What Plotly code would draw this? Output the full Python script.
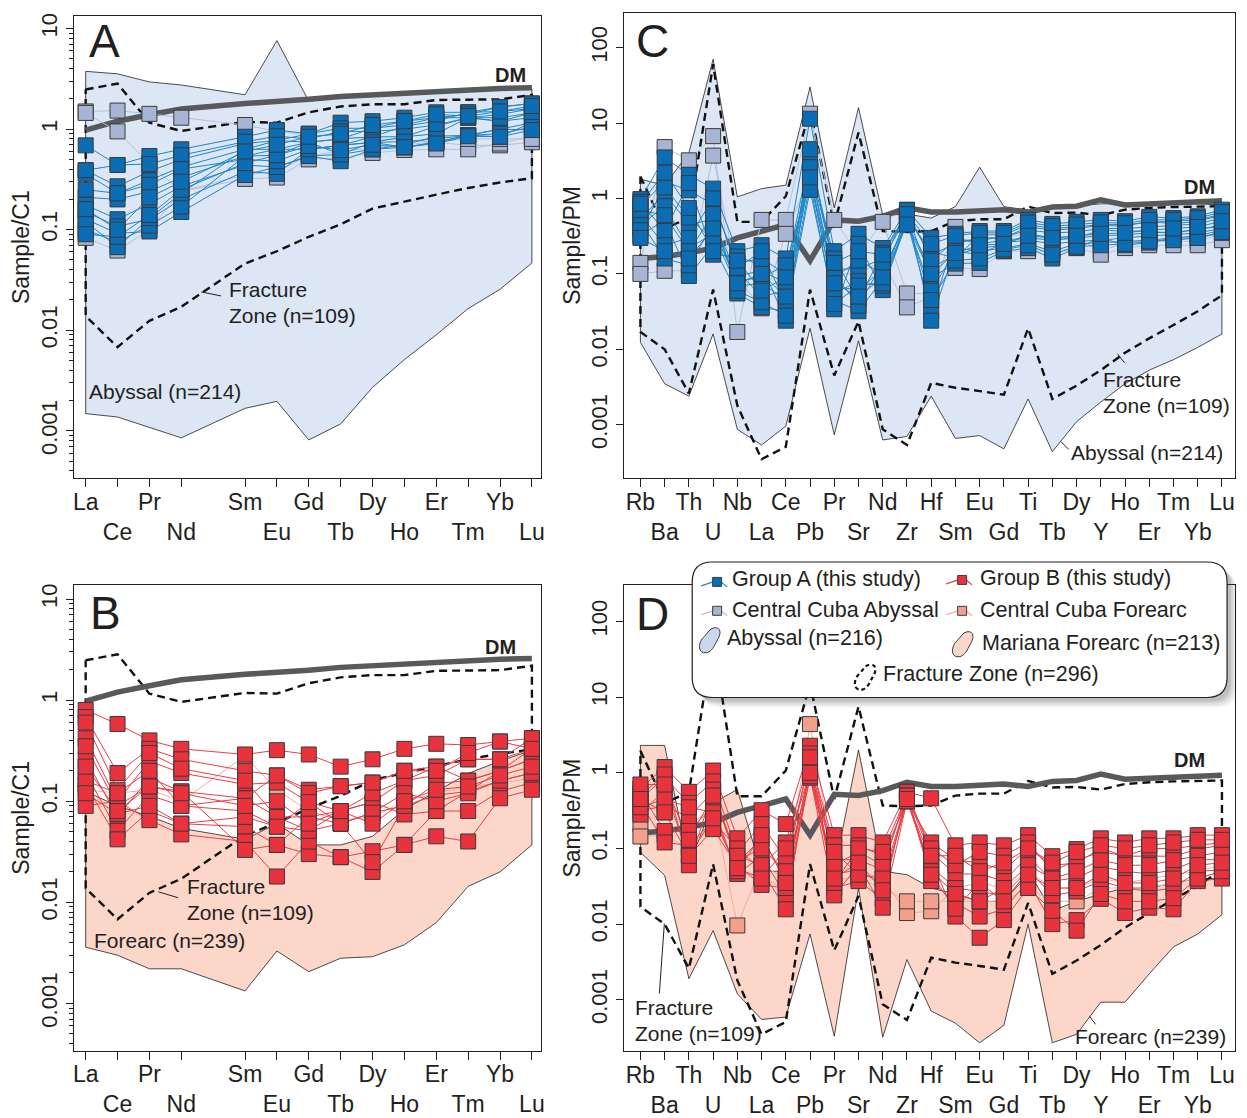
import plotly.graph_objects as go

W, H = 1247, 1118
FONT = "Liberation Sans, Arial, sans-serif"
INK = "#231f20"

# ---------------------------------------------------------------- elements
ree_elements = ["La", "Ce", "Pr", "Nd", "Pm", "Sm", "Eu", "Gd", "Tb", "Dy", "Ho", "Er", "Tm", "Yb", "Lu"]
ree_plotted = [e for e in ree_elements if e != "Pm"]
spider_elements = ["Rb", "Ba", "Th", "U", "Nb", "La", "Ce", "Pb", "Pr", "Sr", "Nd", "Zr", "Hf",
                   "Sm", "Eu", "Gd", "Ti", "Tb", "Dy", "Y", "Ho", "Er", "Tm", "Yb", "Lu"]

# ---------------------------------------------------------------- REE (chondrite normalised)
dm_ree = [0.98, 1.2, 1.39, 1.59, 1.8, 1.87, 1.98, 2.11, 2.19, 2.25, 2.38, 2.48, 2.54, 2.58]
fz_ree_upper = [2.48, 2.84, 1.16, 0.96, 1.18, 1.16, 1.47, 1.68, 1.77, 1.77, 1.95, 1.98, 1.98, 2.19]
fz_ree_lower = [0.0138, 0.0068, 0.0124, 0.0171, 0.046, 0.061, 0.085, 0.113, 0.162, 0.19, 0.223, 0.26, 0.295, 0.325]
abyssal_ree_upper = [3.76, 3.55, 2.95, 2.75, 2.2, 7.6, 1.9, 2.05, 2.15, 2.2, 2.3, 2.4, 2.45, 2.5]
abyssal_ree_lower = [0.00148, 0.00137, 0.00107, 0.00085, 0.00167, 0.00196, 0.00081, 0.00117, 0.0027,
                     0.0051, 0.009, 0.0164, 0.0255, 0.0467]
forearc_ree_upper = [0.125, 0.09, 0.071, 0.054, 0.042, 0.06, 0.037, 0.037, 0.045, 0.083, 0.125, 0.188, 0.25, 0.32]
forearc_ree_lower = [0.0036, 0.003, 0.0022, 0.0022, 0.00133, 0.0033, 0.00206, 0.0028, 0.0029, 0.0038,
                     0.0063, 0.0144, 0.02, 0.037]

group_a_ree = [
    [0.69, 0.44, 0.54, 0.63, 0.84, 0.98, 0.90, 1.16, 1.20, 1.30, 1.47, 1.47, 1.66, 1.80],
    [0.39, 0.27, 0.38, 0.50, 0.72, 0.77, 0.74, 0.80, 1.02, 1.10, 1.30, 1.30, 1.40, 1.60],
    [0.36, 0.23, 0.31, 0.42, 0.63, 0.63, 0.63, 0.69, 0.84, 0.84, 1.07, 1.30, 1.20, 1.45],
    [0.21, 0.20, 0.24, 0.33, 0.54, 0.55, 0.74, 0.56, 0.74, 0.66, 0.74, 0.87, 0.84, 1.16],
    [0.176, 0.127, 0.18, 0.27, 0.44, 0.42, 0.54, 0.48, 0.63, 0.66, 0.74, 0.87, 1.00, 0.98],
    [0.15, 0.108, 0.127, 0.20, 0.38, 0.36, 0.63, 0.69, 0.74, 0.84, 0.90, 1.30, 1.20, 1.30],
    [0.127, 0.092, 0.096, 0.15, 0.35, 0.42, 0.54, 0.56, 0.63, 0.70, 0.85, 0.87, 1.00, 1.16],
    [0.10, 0.075, 0.11, 0.17, 0.54, 0.63, 0.74, 0.80, 0.84, 1.07, 1.20, 1.47, 1.50, 1.60],
    [0.12, 0.067, 0.13, 0.23, 0.63, 0.77, 0.90, 1.02, 1.02, 1.20, 1.30, 1.40, 1.66, 1.80],
    [0.39, 0.44, 0.45, 0.55, 0.75, 0.85, 0.80, 0.95, 0.95, 1.00, 1.10, 1.30, 1.30, 1.45],
    [0.25, 0.23, 0.28, 0.40, 0.50, 0.48, 0.63, 0.69, 0.74, 0.75, 0.80, 0.87, 0.90, 1.05],
    [0.09, 0.085, 0.14, 0.25, 0.46, 0.55, 0.68, 0.62, 0.70, 0.66, 0.72, 0.85, 0.84, 0.98],
    [0.16, 0.10, 0.21, 0.30, 0.60, 0.70, 0.84, 0.90, 1.10, 1.20, 1.40, 1.35, 1.50, 1.70],
]
cuba_abyssal_ree = [
    [1.50, 1.53, 1.42, 1.30, 1.10, 0.95, 0.88, 0.85, 0.80, 0.78, 0.74, 0.69, 0.69, 0.74],
    [0.083, 0.062, 0.10, 0.24, 0.32, 0.33, 0.50, 0.52, 0.58, 0.62, 0.63, 0.63, 0.72, 0.85],
    [1.45, 0.95, 0.45, 0.24, 0.35, 0.38, 0.55, 0.60, 0.65, 0.70, 0.75, 0.80, 0.80, 0.80],
]
group_b_ree = [
    [0.80, 0.58, 0.40, 0.33, 0.29, 0.32, 0.29, 0.22, 0.26, 0.33, 0.37, 0.36, 0.39, 0.42],
    [0.68, 0.19, 0.33, 0.26, 0.20, 0.18, 0.13, 0.141, 0.153, 0.20, 0.22, 0.26, 0.26, 0.33],
    [0.42, 0.10, 0.25, 0.19, 0.147, 0.153, 0.098, 0.08, 0.098, 0.16, 0.22, 0.16, 0.20, 0.26],
    [0.26, 0.07, 0.17, 0.125, 0.107, 0.07, 0.07, 0.06, 0.077, 0.09, 0.115, 0.125, 0.16, 0.19],
    [0.19, 0.051, 0.115, 0.09, 0.08, 0.056, 0.051, 0.08, 0.098, 0.074, 0.08, 0.08, 0.125, 0.153],
    [0.147, 0.042, 0.08, 0.06, 0.056, 0.037, 0.03, 0.028, 0.032, 0.037, 0.045, 0.04, 0.107, 0.13],
    [0.09, 0.10, 0.065, 0.047, 0.04, 0.018, 0.04, 0.028, 0.02, 0.037, 0.08, 0.125, 0.20, 0.26],
    [0.60, 0.13, 0.30, 0.21, 0.16, 0.07, 0.051, 0.06, 0.025, 0.09, 0.15, 0.16, 0.20, 0.33],
    [0.35, 0.09, 0.14, 0.125, 0.033, 0.037, 0.07, 0.08, 0.12, 0.16, 0.18, 0.26, 0.26, 0.42],
    [0.16, 0.12, 0.20, 0.09, 0.107, 0.18, 0.12, 0.141, 0.153, 0.20, 0.20, 0.30, 0.39, 0.33],
    [0.12, 0.075, 0.09, 0.06, 0.07, 0.056, 0.098, 0.06, 0.077, 0.12, 0.10, 0.12, 0.16, 0.19],
    [0.22, 0.08, 0.14, 0.12, 0.09, 0.10, 0.06, 0.08, 0.06, 0.10, 0.13, 0.14, 0.18, 0.22],
]
cuba_forearc_ree = [
    [0.13, 0.12, 0.13, 0.10, 0.28, 0.13, 0.08, 0.065, 0.07, 0.10, 0.12, 0.14, 0.15, 0.17],
]

# ---------------------------------------------------------------- trace elements (primitive mantle normalised)
dm_spider = [0.16, 0.17, 0.19, 0.22, 0.30, 0.36, 0.45, 0.15, 0.52, 0.50, 0.58, 0.75, 0.66,
             0.66, 0.69, 0.71, 0.66, 0.77, 0.79, 0.96, 0.82, 0.85, 0.88, 0.91, 0.93]
fz_spider_upper = [1.95, 0.40, 0.55, 60.0, 0.49, 0.49, 1.07, 15.0, 0.45, 7.5, 0.37, 0.36, 0.37,
                   0.50, 0.53, 0.53, 0.78, 0.64, 0.65, 0.60, 0.71, 0.75, 0.77, 0.78, 0.79]
fz_spider_lower = [0.017, 0.010, 0.0026, 0.062, 0.0018, 0.00035, 0.00051, 0.062, 0.0045, 0.0235,
                   0.00087, 0.00054, 0.0036, 0.0031, 0.0028, 0.0025, 0.019, 0.0022, 0.0033, 0.0053,
                   0.009, 0.014, 0.021, 0.032, 0.052]
abyssal_spider_upper = [1.8, 1.5, 4.0, 70.0, 1.05, 1.35, 1.5, 30.0, 0.75, 16.0, 0.6, 0.62, 0.55,
                        0.78, 2.6, 0.78, 0.7, 0.75, 0.8, 0.85, 0.85, 0.85, 0.85, 0.85, 0.82]
abyssal_spider_lower = [0.0124, 0.0035, 0.0024, 0.016, 0.00087, 0.00054, 0.00096, 0.019, 0.00074,
                        0.013, 0.00063, 0.0007, 0.0024, 0.00066, 0.00072, 0.00048, 0.0022, 0.00044,
                        0.0011, 0.002, 0.0035, 0.0053, 0.0073, 0.0106, 0.016]
forearc_spider_upper = [2.3, 2.3, 0.06, 0.4, 0.6, 0.05, 0.05, 1.0, 0.05, 2.0, 0.05, 0.045, 0.03,
                        0.025, 0.02, 0.02, 0.05, 0.015, 0.02, 0.025, 0.03, 0.03, 0.035, 0.04, 0.04]
forearc_spider_lower = [0.089, 0.044, 0.0019, 0.0082, 0.0012, 0.00055, 0.00059, 0.0074, 0.00033,
                        0.03, 0.00032, 0.0034, 0.00071, 0.00049, 0.00027, 0.00046, 0.01, 0.00027,
                        0.00035, 0.00093, 0.00093, 0.0022, 0.005, 0.0074, 0.0133]

group_a_spider = [
    [0.98, 3.5, 2.06, 1.35, 0.2, 0.24, 0.16, 11.4, 0.2, 0.34, 0.22, 0.71, 0.3, 0.34, 0.37, 0.37, 0.52, 0.46, 0.49, 0.52, 0.5, 0.57, 0.55, 0.58, 0.71],
    [0.79, 1.67, 1.28, 0.83, 0.14, 0.16, 0.1, 3.9, 0.116, 0.116, 0.16, 0.57, 0.18, 0.25, 0.3, 0.3, 0.42, 0.38, 0.4, 0.44, 0.43, 0.5, 0.46, 0.5, 0.6],
    [0.54, 1.15, 0.46, 0.52, 0.094, 0.11, 0.076, 2.8, 0.068, 0.061, 0.116, 0.46, 0.12, 0.18, 0.22, 0.24, 0.34, 0.3, 0.3, 0.38, 0.37, 0.37, 0.34, 0.4, 0.42],
    [0.44, 0.79, 0.22, 0.34, 0.068, 0.076, 0.045, 2.06, 0.045, 0.032, 0.085, 0.6, 0.09, 0.137, 0.14, 0.2, 0.22, 0.16, 0.22, 0.3, 0.24, 0.26, 0.3, 0.3, 0.35],
    [0.32, 0.52, 0.094, 0.24, 0.055, 0.036, 0.032, 1.58, 0.034, 0.25, 0.061, 0.5, 0.032, 0.3, 0.25, 0.28, 0.3, 0.28, 0.3, 0.32, 0.33, 0.35, 0.36, 0.38, 0.45],
    [0.9, 0.37, 1.6, 0.18, 0.17, 0.13, 0.024, 3.2, 0.16, 0.045, 0.19, 0.65, 0.024, 0.22, 0.2, 0.22, 0.25, 0.2, 0.25, 0.26, 0.27, 0.28, 0.3, 0.32, 0.38],
    [0.6, 0.24, 0.3, 1.0, 0.11, 0.05, 0.06, 2.4, 0.09, 0.15, 0.1, 0.55, 0.2, 0.16, 0.33, 0.33, 0.45, 0.4, 0.42, 0.45, 0.45, 0.48, 0.5, 0.52, 0.62],
    [0.5, 0.16, 0.13, 0.45, 0.08, 0.09, 0.13, 1.8, 0.055, 0.08, 0.07, 0.48, 0.06, 0.2, 0.18, 0.26, 0.28, 0.25, 0.27, 0.28, 0.3, 0.32, 0.33, 0.35, 0.4],
    [0.38, 1.4, 0.56, 0.28, 0.12, 0.2, 0.04, 4.5, 0.1, 0.038, 0.14, 0.7, 0.15, 0.28, 0.28, 0.31, 0.38, 0.35, 0.36, 0.4, 0.4, 0.42, 0.44, 0.46, 0.55],
    [0.7, 0.6, 0.2, 0.62, 0.06, 0.042, 0.028, 1.3, 0.04, 0.07, 0.075, 0.52, 0.045, 0.15, 0.16, 0.21, 0.24, 0.18, 0.23, 0.24, 0.25, 0.27, 0.28, 0.3, 0.36],
    [0.85, 2.2, 0.75, 0.2, 0.15, 0.06, 0.09, 2.6, 0.14, 0.2, 0.18, 0.62, 0.25, 0.32, 0.35, 0.35, 0.48, 0.43, 0.45, 0.48, 0.47, 0.52, 0.52, 0.55, 0.66],
    [0.3, 0.2, 0.16, 0.4, 0.075, 0.1, 0.05, 1.9, 0.075, 0.05, 0.09, 0.45, 0.1, 0.19, 0.24, 0.25, 0.32, 0.3, 0.32, 0.34, 0.35, 0.38, 0.4, 0.42, 0.5],
]
cuba_abyssal_spider = [
    [0.14, 4.8, 3.2, 6.7, 0.017, 0.52, 0.52, 13.3, 0.52, 0.18, 0.49, 0.055, 0.055, 0.42, 0.3, 0.3, 0.35, 0.28, 0.3, 0.2, 0.26, 0.28, 0.27, 0.27, 0.34],
    [0.10, 0.11, 0.11, 3.7, 0.09, 0.035, 0.34, 2.0, 0.1, 0.1, 0.15, 0.036, 0.05, 0.12, 0.116, 0.2, 0.2, 0.2, 0.22, 0.18, 0.22, 0.24, 0.24, 0.24, 0.28],
]
group_b_spider = [
    [0.62, 1.19, 0.56, 1.07, 0.136, 0.32, 0.21, 2.28, 0.15, 0.15, 0.12, 0.56, 0.46, 0.11, 0.12, 0.11, 0.15, 0.079, 0.098, 0.136, 0.12, 0.136, 0.136, 0.15, 0.15],
    [0.45, 0.86, 0.4, 0.77, 0.088, 0.21, 0.071, 1.48, 0.11, 0.11, 0.079, 0.42, 0.12, 0.071, 0.064, 0.052, 0.1, 0.06, 0.064, 0.1, 0.079, 0.079, 0.079, 0.098, 0.11],
    [0.32, 0.36, 0.26, 0.56, 0.064, 0.136, 0.041, 1.07, 0.071, 0.071, 0.052, 0.56, 0.088, 0.046, 0.046, 0.037, 0.079, 0.037, 0.041, 0.057, 0.05, 0.046, 0.052, 0.071, 0.071],
    [0.55, 0.17, 0.17, 0.36, 0.046, 0.079, 0.024, 0.86, 0.046, 0.052, 0.033, 0.42, 0.057, 0.03, 0.027, 0.024, 0.052, 0.024, 0.027, 0.037, 0.03, 0.027, 0.03, 0.05, 0.052],
    [0.4, 0.12, 0.11, 0.23, 0.1, 0.052, 0.0157, 1.3, 0.03, 0.037, 0.0216, 0.56, 0.037, 0.019, 0.0126, 0.0157, 0.037, 0.01, 0.0113, 0.0216, 0.014, 0.0165, 0.0157, 0.037, 0.04],
    [0.28, 0.6, 0.079, 0.18, 0.06, 0.033, 0.03, 0.9, 0.024, 0.06, 0.0165, 0.42, 0.07, 0.0126, 0.0066, 0.0113, 0.03, 0.015, 0.0082, 0.025, 0.02, 0.02, 0.022, 0.04, 0.05],
    [0.5, 0.95, 0.06, 0.6, 0.07, 0.1, 0.05, 1.8, 0.06, 0.09, 0.06, 0.5, 0.1, 0.06, 0.09, 0.08, 0.12, 0.05, 0.07, 0.09, 0.08, 0.1, 0.1, 0.11, 0.12],
    [0.35, 0.45, 0.35, 0.3, 0.05, 0.15, 0.035, 1.2, 0.09, 0.045, 0.04, 0.45, 0.05, 0.025, 0.02, 0.03, 0.06, 0.04, 0.05, 0.07, 0.06, 0.06, 0.07, 0.08, 0.09],
    [0.7, 0.7, 0.13, 0.5, 0.08, 0.06, 0.12, 1.6, 0.035, 0.1, 0.09, 0.5, 0.08, 0.08, 0.05, 0.065, 0.1, 0.065, 0.09, 0.11, 0.1, 0.11, 0.12, 0.13, 0.13],
    [0.45, 0.3, 0.08, 0.25, 0.055, 0.04, 0.1, 1.0, 0.04, 0.065, 0.028, 0.45, 0.045, 0.016, 0.035, 0.02, 0.045, 0.03, 0.03, 0.045, 0.035, 0.035, 0.04, 0.06, 0.065],
]
cuba_forearc_spider = [
    [0.21, 0.3, 0.2, 0.35, 0.0096, 0.06, 0.04, 4.4, 0.06, 0.05, 0.04, 0.014, 0.0148, 0.03, 0.035, 0.03, 0.05, 0.03, 0.03, 0.04, 0.035, 0.04, 0.045, 0.05, 0.06],
    [0.144, 0.15, 0.1, 0.2, 0.05, 0.04, 0.03, 1.2, 0.04, 0.04, 0.03, 0.02, 0.02, 0.02, 0.02, 0.02, 0.03, 0.02, 0.02, 0.03, 0.03, 0.03, 0.035, 0.04, 0.05],
]

# ---------------------------------------------------------------- styling
GA_FILL, GA_LINE = "#0b6db3", "#1f87c8"
CCA_FILL, CCA_LINE = "#a8b4d4", "#b4c0dc"
GB_FILL, GB_LINE = "#e8323c", "#ea3d45"
CCF_FILL, CCF_LINE = "#f2a08c", "#f6ab9b"
ABY_FILL, FA_FILL = "#dce6f4", "#fbd6c9"
DM_COL = "#58595b"
EDGE = "#3b3a3c"

ree_x = [ree_elements.index(e) for e in ree_plotted]
spider_x = list(range(len(spider_elements)))


def px(x):
    return x / W


def py(y):
    return 1 - y / H


fig = go.Figure()


def add_field(xs, upper, lower, color, ax):
    fig.add_trace(go.Scatter(
        x=xs + xs[::-1] + [xs[0]], y=upper + lower[::-1] + [upper[0]],
        fill="toself", fillcolor=color, mode="lines",
        line=dict(color=INK, width=0.8), xaxis=ax[0], yaxis=ax[1],
        hoverinfo="skip", showlegend=False))


def add_fz(xs, upper, lower, ax):
    fig.add_trace(go.Scatter(
        x=xs + xs[::-1] + [xs[0]], y=upper + lower[::-1] + [upper[0]],
        mode="lines", line=dict(color="#111111", width=2.4, dash="8px,5px"),
        xaxis=ax[0], yaxis=ax[1], hoverinfo="skip", showlegend=False))


def add_dm(xs, vals, ax):
    fig.add_trace(go.Scatter(
        x=xs, y=vals, mode="lines", line=dict(color=DM_COL, width=5.5),
        xaxis=ax[0], yaxis=ax[1], hoverinfo="skip", showlegend=False))


def add_samples(xs, groups, ax):
    # lines of every sample first, then every marker on top
    for rows, fillc, linec in groups:
        for row in rows:
            fig.add_trace(go.Scatter(
                x=xs, y=row, mode="lines", line=dict(color=linec, width=1),
                xaxis=ax[0], yaxis=ax[1], hoverinfo="skip", showlegend=False))
    for rows, fillc, linec in groups:
        for row in rows:
            fig.add_trace(go.Scatter(
                x=xs, y=row, mode="markers",
                marker=dict(symbol="square", size=15, color=fillc, line=dict(color=EDGE, width=1)),
                xaxis=ax[0], yaxis=ax[1], hoverinfo="skip", showlegend=False))


AX_A, AX_C, AX_B, AX_D = ("x", "y"), ("x2", "y2"), ("x3", "y3"), ("x4", "y4")

# Panel A
add_field(ree_x, abyssal_ree_upper, abyssal_ree_lower, ABY_FILL, AX_A)
add_fz(ree_x, fz_ree_upper, fz_ree_lower, AX_A)
add_dm(ree_x, dm_ree, AX_A)
add_samples(ree_x, [(cuba_abyssal_ree, CCA_FILL, CCA_LINE), (group_a_ree, GA_FILL, GA_LINE)], AX_A)

# Panel C
add_field(spider_x, abyssal_spider_upper, abyssal_spider_lower, ABY_FILL, AX_C)
add_fz(spider_x, fz_spider_upper, fz_spider_lower, AX_C)
add_dm(spider_x, dm_spider, AX_C)
add_samples(spider_x, [(cuba_abyssal_spider, CCA_FILL, CCA_LINE), (group_a_spider, GA_FILL, GA_LINE)], AX_C)

# Panel B
add_field(ree_x, forearc_ree_upper, forearc_ree_lower, FA_FILL, AX_B)
add_fz(ree_x, fz_ree_upper, fz_ree_lower, AX_B)
add_dm(ree_x, dm_ree, AX_B)
add_samples(ree_x, [(cuba_forearc_ree, CCF_FILL, CCF_LINE), (group_b_ree, GB_FILL, GB_LINE)], AX_B)

# Panel D
add_field(spider_x, forearc_spider_upper, forearc_spider_lower, FA_FILL, AX_D)
add_fz(spider_x, fz_spider_upper, fz_spider_lower, AX_D)
add_dm(spider_x, dm_spider, AX_D)
add_samples(spider_x, [(cuba_forearc_spider, CCF_FILL, CCF_LINE), (group_b_spider, GB_FILL, GB_LINE)], AX_D)


# ---------------------------------------------------------------- axes
def two_row(names):
    return [n if i % 2 == 0 else "<br>" + n for i, n in enumerate(names)]


def x_axis(domain, rng, vals, names, anchor):
    return dict(domain=domain, range=rng, anchor=anchor, tickmode="array", tickvals=vals,
                ticktext=two_row(names), tickangle=0, ticks="outside", ticklen=8, tickwidth=1.2,
                tickcolor=INK, showline=True, linecolor=INK, linewidth=1.3, mirror=True,
                showgrid=False, zeroline=False, tickfont=dict(size=23, color=INK, family=FONT),
                ticklabelstandoff=-5, fixedrange=True)


def label(v):
    return f"{v:g}" if v >= 1 else f"{v:.{len(str(v).split('.')[1])}f}"


def y_axis(domain, rng, vals, title, anchor, minor_ticks):
    d = dict(type="log", domain=domain, range=rng, anchor=anchor, tickmode="array", tickvals=vals,
             ticktext=[label(v) for v in vals], tickangle=-90, ticks="outside", ticklen=7,
             tickwidth=1.2, tickcolor=INK, showline=True, linecolor=INK, linewidth=1.3, mirror=True,
             showgrid=False, zeroline=False, tickfont=dict(size=22, color=INK, family=FONT),
             title=dict(text=title, font=dict(size=23, color=INK, family=FONT), standoff=0),
             fixedrange=True)
    if minor_ticks:
        d["minor"] = dict(tickmode="array", ticks="outside", ticklen=4, tickwidth=1, tickcolor=INK,
                          showgrid=False,
                          tickvals=[k * 10.0 ** e for e in range(-4, 2) for k in range(2, 10)])
    return d


ree_ticks = [0.001, 0.01, 0.1, 1, 10]
spider_ticks = [0.001, 0.01, 0.1, 1, 10, 100]
ree_xr = [-0.366, 14.28]
sp_xr = [-0.67, 24.54]

fig.update_layout(
    width=W, height=H, autosize=False, margin=dict(l=0, r=0, t=0, b=0),
    paper_bgcolor="white", plot_bgcolor="white", showlegend=False,
    font=dict(family=FONT, color=INK),
    xaxis=x_axis([px(73.3), px(542)], ree_xr, ree_x, ree_plotted, "y"),
    yaxis=y_axis([py(476.7), py(13.3)], [-3.47, 1.123], ree_ticks, "Sample/C1", "x", True),
    xaxis2=x_axis([px(625.7), px(1239)], sp_xr, spider_x, spider_elements, "y2"),
    yaxis2=y_axis([py(476.7), py(9.9)], [-3.705, 2.46], spider_ticks, "Sample/PM", "x2", False),
    xaxis3=x_axis([px(73.3), px(542)], ree_xr, ree_x, ree_plotted, "y3"),
    yaxis3=y_axis([py(1051.3), py(584.3)], [-3.466, 1.137], ree_ticks, "Sample/C1", "x3", True),
    xaxis4=x_axis([px(625.7), px(1239)], sp_xr, spider_x, spider_elements, "y4"),
    yaxis4=y_axis([py(1052), py(584)], [-3.68, 2.483], spider_ticks, "Sample/PM", "x4", False),
)

# ---------------------------------------------------------------- text labels
annotations = []


def note(text, x, y, size=21, anchor="left", bold=False):
    annotations.append(dict(text=f"<b>{text}</b>" if bold else text, x=px(x), y=py(y),
                            xref="paper", yref="paper", xanchor=anchor, yanchor="middle",
                            showarrow=False, font=dict(size=size, color=INK, family=FONT)))


for letter, lx, ly in [("A", 86, 38), ("C", 636, 38), ("B", 87, 612), ("D", 636, 613)]:
    note(letter, lx, ly, size=46)
for dx, dy in [(512, 72), (1203, 185), (502, 646), (1193, 760)]:
    note("DM", dx, dy, size=20, anchor="center", bold=True)

note("Fracture", 227, 288)
note("Zone (n=109)", 227, 314)
note("Abyssal (n=214)", 86, 390)
note("Fracture", 1104, 378)
note("Zone (n=109)", 1104, 404)
note("Abyssal (n=214)", 1072, 451)
note("Fracture", 185, 887)
note("Zone (n=109)", 185, 913)
note("Forearc (n=239)", 91, 941)
note("Fracture", 635, 1008)
note("Zone (n=109)", 635, 1034)
note("Forearc (n=239)", 1076, 1037)

shapes = []


def seg(x0, y0, x1, y1, color=INK, width=1):
    shapes.append(dict(type="line", xref="paper", yref="paper", x0=px(x0), y0=py(y0),
                       x1=px(x1), y1=py(y1), line=dict(color=color, width=width), layer="above"))


# leader lines
seg(201, 290, 221, 294)
seg(1121, 352, 1128, 361)
seg(1064, 440, 1072, 448)
seg(158, 892, 178, 898)
seg(661, 994, 666, 924)
seg(1093, 1017, 1099, 1025)


# ---------------------------------------------------------------- legend box
def rounded_rect(x0, y0, x1, y1, r):
    pts = [
        f"M {px(x0 + r)},{py(y0)}", f"L {px(x1 - r)},{py(y0)}",
        f"Q {px(x1)},{py(y0)} {px(x1)},{py(y0 + r)}", f"L {px(x1)},{py(y1 - r)}",
        f"Q {px(x1)},{py(y1)} {px(x1 - r)},{py(y1)}", f"L {px(x0 + r)},{py(y1)}",
        f"Q {px(x0)},{py(y1)} {px(x0)},{py(y1 - r)}", f"L {px(x0)},{py(y0 + r)}",
        f"Q {px(x0)},{py(y0)} {px(x0 + r)},{py(y0)}", "Z"]
    return " ".join(pts)


LX0, LY0, LX1, LY1 = 694, 561, 1231, 697
for off, alpha in [(10, 0.05), (8, 0.07), (6, 0.09), (4, 0.12)]:
    shapes.append(dict(type="path", xref="paper", yref="paper", layer="above",
                       path=rounded_rect(LX0 + off, LY0 + off, LX1 + off, LY1 + off, 20),
                       fillcolor=f"rgba(40,40,40,{alpha})", line=dict(width=0)))
shapes.append(dict(type="path", xref="paper", yref="paper", layer="above",
                   path=rounded_rect(LX0, LY0, LX1, LY1, 20), fillcolor="white",
                   line=dict(color=INK, width=1.2)))


def legend_marker(cx, cy, fill, linec):
    seg(cx - 16, cy + 4, cx - 4, cy, color=linec, width=1.2)
    seg(cx + 4, cy, cx + 10, cy + 5, color=linec, width=1.2)
    shapes.append(dict(type="rect", xref="paper", yref="paper", layer="above",
                       x0=px(cx - 4.5), x1=px(cx + 4.5), y0=py(cy + 4.5), y1=py(cy - 4.5),
                       fillcolor=fill, line=dict(color=EDGE, width=1)))


BLOB = [("M", [(5, 25)]), ("C", [(-1, 23), (1, 13), (6, 9)]), ("C", [(10, 5), (11, 1), (16, 0)]),
        ("C", [(23, -1), (23, 6), (20, 11)]), ("C", [(17, 16), (15, 23), (9, 25)])]


def blob(x0, y0, fill, dashed=False):
    parts = []
    for cmd, pts in BLOB:
        parts.append(cmd + " " + " ".join(f"{px(x0 + a)},{py(y0 + b)}" for a, b in pts))
    shapes.append(dict(type="path", xref="paper", yref="paper", layer="above",
                       path=" ".join(parts) + " Z", fillcolor=fill,
                       line=dict(color="#111111" if dashed else EDGE,
                                 width=2.2 if dashed else 1, dash="4px,3px" if dashed else "solid")))


legend_marker(719, 581, GA_FILL, GA_LINE)
legend_marker(965, 579, GB_FILL, GB_LINE)
legend_marker(719, 610, CCA_FILL, CCA_LINE)
legend_marker(965, 610, CCF_FILL, CCF_LINE)
blob(700, 627, "#c9d8ec")
blob(954, 631, FA_FILL)
blob(856, 664, "rgba(0,0,0,0)", dashed=True)

note("Group A (this study)", 732, 578, size=21.5)
note("Group B (this study)", 981, 577, size=21.5)
note("Central Cuba Abyssal", 732, 609, size=21.5)
note("Central Cuba Forearc", 981, 609, size=21.5)
note("Abyssal (n=216)", 727, 637, size=21.5)
note("Mariana Forearc (n=213)", 983, 642, size=21.5)
note("Fracture Zone (n=296)", 884, 673, size=21.5)

fig.update_layout(annotations=annotations, shapes=shapes)
fig.write_html("out.html")
